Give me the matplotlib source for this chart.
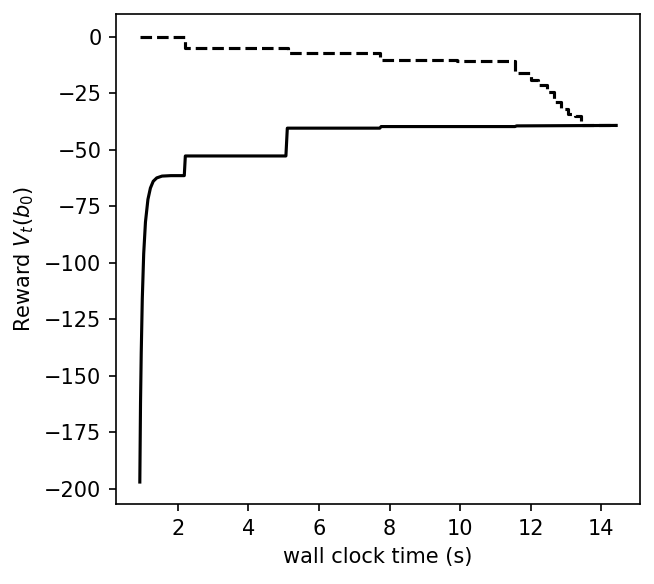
import matplotlib
matplotlib.use("Agg")
import matplotlib.pyplot as plt

# solid series (wall clock time s, reward)
solid_t = [0.92, 0.94, 0.96, 0.99, 1.03, 1.08, 1.15, 1.22, 1.30, 1.40, 1.55, 1.80,
           2.18, 2.21, 5.06, 5.10, 7.72, 7.76, 11.55, 11.60, 14.42]
solid_v = [-197, -162, -140, -116, -96, -82, -72, -67, -64, -62.5, -61.7, -61.5,
           -61.5, -52.8, -52.8, -40.5, -40.5, -39.8, -39.8, -39.5, -39.3]

# dashed series (step function)
dash_t = [0.92, 2.20, 5.12, 7.74, 9.90, 11.54, 12.00, 12.20, 12.45, 12.65,
          12.85, 13.05, 13.25, 13.43, 14.42]
dash_v = [0.0, -5.0, -7.2, -10.5, -10.8, -16.3, -19.0, -21.5, -24.5, -29.0,
          -32.0, -34.2, -35.0, -39.2, -39.1]

fig = plt.figure(figsize=(655 / 150, 584 / 150), dpi=150)
ax = fig.add_axes([116 / 655, 1 - 504.3 / 584, (640 - 116) / 655, (504.3 - 14.3) / 584])

ax.plot(dash_t, dash_v, color="black", linestyle="--", linewidth=1.5,
        drawstyle="steps-post")
ax.plot(solid_t, solid_v, color="black", linestyle="-", linewidth=1.5)

ax.set_xticks([2, 4, 6, 8, 10, 12, 14])
ax.set_yticks([0, -25, -50, -75, -100, -125, -150, -175, -200])
ax.set_xlabel("wall clock time (s)")
ax.set_ylabel("Reward $V_t(b_0)$")

fig.savefig("out.png", dpi=150)
